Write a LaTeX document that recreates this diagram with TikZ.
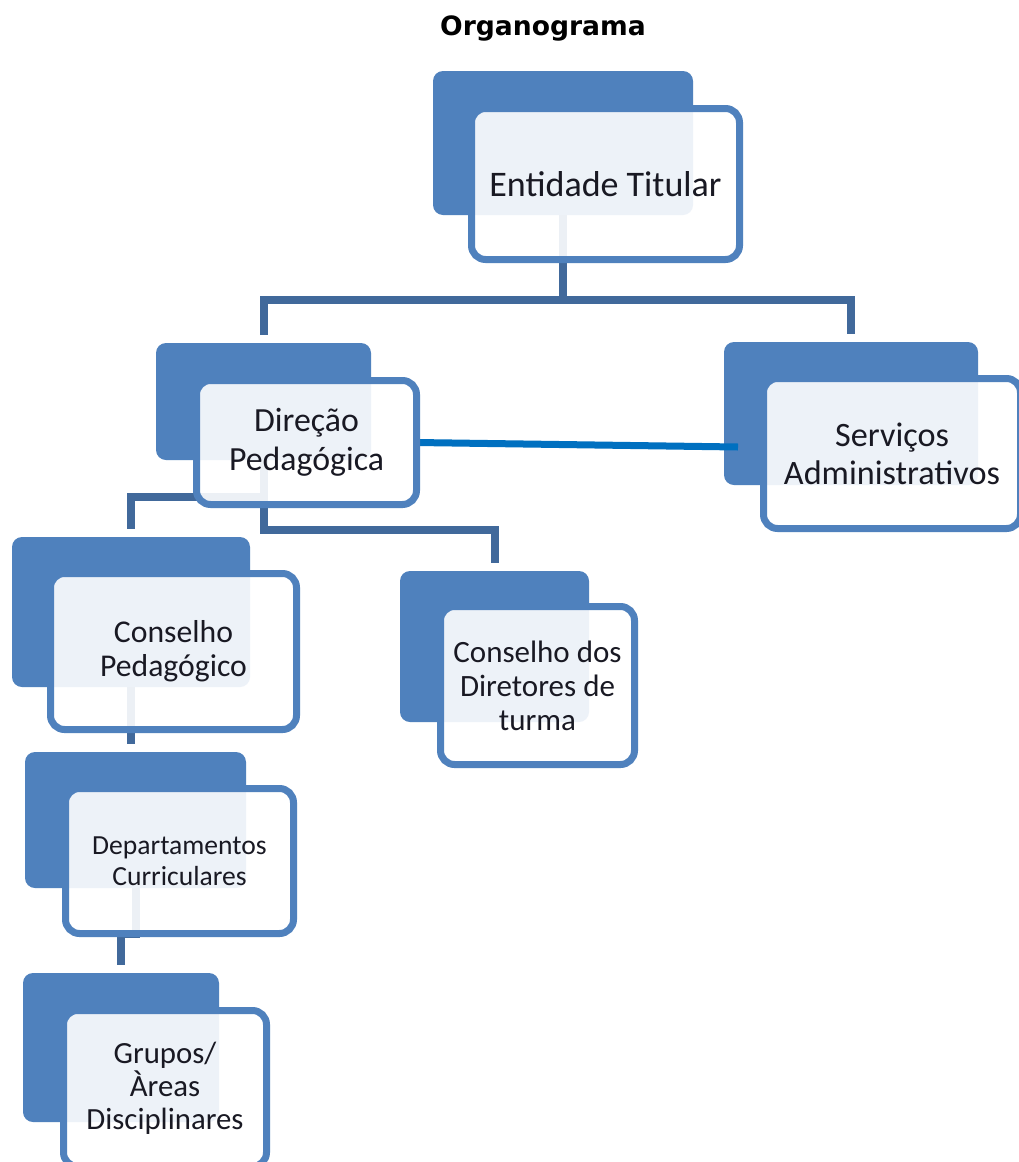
\documentclass[tikz,border=0pt]{standalone}
\usepackage{fontspec}
\setmainfont{Carlito}
\newfontfamily\titlefont{DejaVu Sans}
\usepackage{xcolor}
\definecolor{boxblue}{RGB}{79,129,189}
\definecolor{connblue}{RGB}{65,105,155}
\definecolor{linkblue}{RGB}{0,112,192}
\definecolor{textdark}{RGB}{25,25,35}
\usepackage{tikz}
\usetikzlibrary{calc}
\pgfdeclarelayer{background}
\pgfsetlayers{background,main}
\tikzstyle{backbox} = [
    fill=boxblue, rounded corners=10pt, inner sep=0pt, outer sep=0pt,
]
\tikzstyle{frontbox} = [
    draw=boxblue, line width=7pt, fill=white, fill opacity=0.9, text opacity=1,
    text=textdark, rounded corners=14pt, align=center, inner sep=0pt, outer sep=0pt,
]
\tikzstyle{conn} = [draw=connblue, line width=8pt, shorten >=8pt]
\tikzstyle{link} = [draw=linkblue, line width=7pt]

\begin{document}
\begin{tikzpicture}[x=1pt, y=-1pt]
    \useasboundingbox (0,0) rectangle (1018,1162);
    \begin{pgfonlayer}{background}
    \fill[white] (0,0) rectangle (1018,1162);
    % back boxes
    \node (entb) at (563,143) [backbox, minimum width=260pt, minimum height=144pt] {};
    \node (dirb) at (263.5,401.5) [backbox, minimum width=215pt, minimum height=117pt] {};
    \node (srvb) at (851,413.5) [backbox, minimum width=254pt, minimum height=143pt] {};
    \node (cpb) at (131,612) [backbox, minimum width=238pt, minimum height=150pt] {};
    \node (cdtb) at (494.5,646.5) [backbox, minimum width=189pt, minimum height=151pt] {};
    \node (depb) at (135.5,820) [backbox, minimum width=221pt, minimum height=136pt] {};
    \node (grub) at (121,1047.5) [backbox, minimum width=196pt, minimum height=149pt] {};
    \end{pgfonlayer}

    \node (title) at (543,28) {\titlefont\bfseries\fontsize{26.6}{32}\selectfont Organograma};

    % front boxes
    \node (entf) at (605.5,184) [frontbox, minimum width=268pt, minimum height=151pt,
        font=\fontsize{36}{43}\selectfont] {Entidade Titular};
    \node (dirf) at (306.5,442.5) [frontbox, minimum width=220pt, minimum height=124pt,
        font=\fontsize{33.8}{39}\selectfont] {Direção\\Pedagógica};
    \node (srvf) at (892,453.5) [frontbox, minimum width=257pt, minimum height=150pt,
        font=\fontsize{34.2}{38}\selectfont] {Serviços\\Administrativos};
    \node (cpf) at (173.5,651.5) [frontbox, minimum width=246pt, minimum height=156pt,
        font=\fontsize{31.7}{34}\selectfont] {Conselho\\Pedagógico};
    \node (cdtf) at (537.5,685.5) [frontbox, minimum width=194pt, minimum height=158pt,
        font=\fontsize{31}{34}\selectfont] {Conselho dos\\Diretores de\\turma};
    \node (depf) at (179.5,861) [frontbox, minimum width=228pt, minimum height=145pt,
        font=\fontsize{27.6}{31}\selectfont] {Departamentos\\Curriculares};
    \node (gruf) at (165,1088.5) [frontbox, minimum width=203pt, minimum height=156pt,
        font=\fontsize{30.8}{33}\selectfont] {Grupos/\\Àreas\\Disciplinares};

    % connectors
    \begin{pgfonlayer}{background}
    \coordinate (busa) at (563,300);
    \coordinate (busb) at (263.5,497);
    \coordinate (srvlink) at (738,447);
    \draw[conn] (entb.south) -- (busa) -| (dirb.north);
    \draw[conn] (busa) -| (srvb.north);
    \draw[conn] (dirb.south) -- ++(0,70) -| (cdtb.north);
    \draw[conn] (busb) -| (cpb.north);
    \draw[conn] (cpb.south) -- (cpb.south |- depb.north);
    \draw[conn] (depb.south) -- ++(0,46) -| (grub.north);
    \draw[link] (dirf.east) -- (srvlink);
    \end{pgfonlayer}

\end{tikzpicture}
\end{document}
